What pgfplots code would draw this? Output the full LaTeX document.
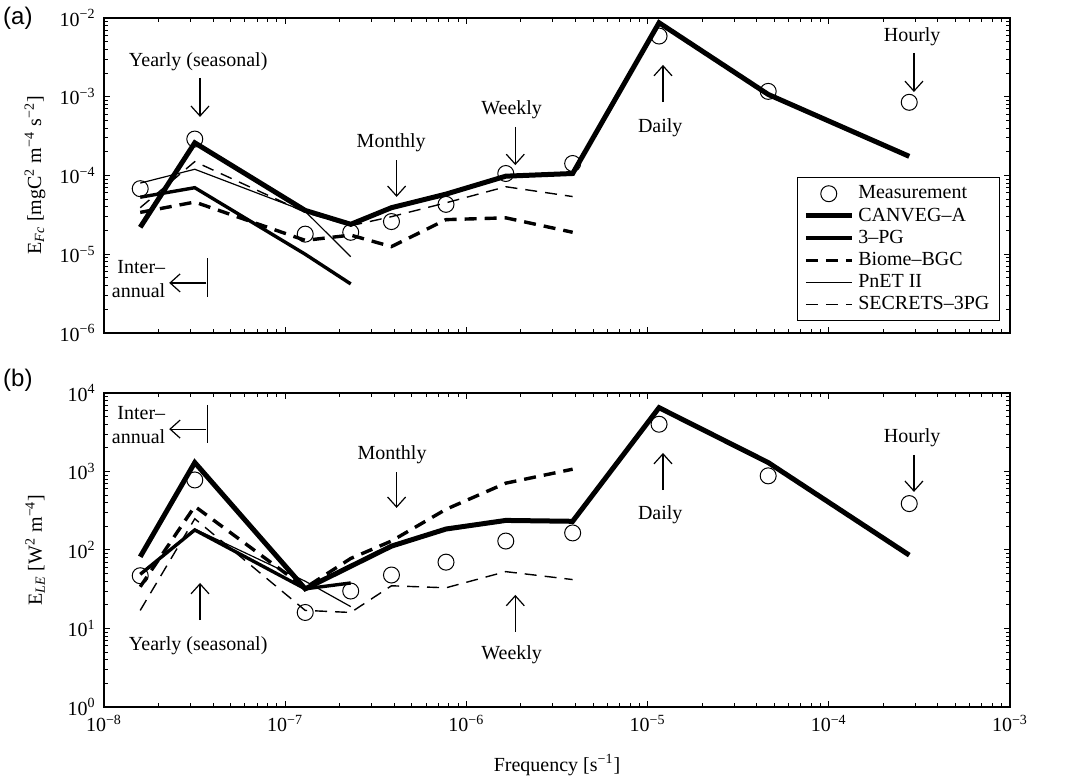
\documentclass[border=0pt]{standalone}
\usepackage{fontspec}
\setmainfont{Liberation Serif}
\setsansfont{Liberation Sans}
\usepackage{pgfplots}
\pgfplotsset{compat=1.18}
\usetikzlibrary{arrows.meta}

\pgfplotsset{
  spectrumpanel/.style={
    scale only axis,
    width=453pt, xmin=1e-8, xmax=1e-3,
    xtick={1e-8,1e-7,1e-6,1e-5,1e-4,1e-3},
    minor xtick={2e-8,3e-8,4e-8,5e-8,6e-8,7e-8,8e-8,9e-8,
                 2e-7,3e-7,4e-7,5e-7,6e-7,7e-7,8e-7,9e-7,
                 2e-6,3e-6,4e-6,5e-6,6e-6,7e-6,8e-6,9e-6,
                 2e-5,3e-5,4e-5,5e-5,6e-5,7e-5,8e-5,9e-5,
                 2e-4,3e-4,4e-4,5e-4,6e-4,7e-4,8e-4,9e-4},
    tick align=inside, major tick length=3pt, minor tick length=1.8pt,
    axis line style={line width=0.75pt},
    every tick/.append style={line width=0.5pt, black},
    xticklabel style={inner sep=0pt, yshift=-4pt},
    yticklabel style={inner sep=0pt, xshift=-4pt},
    clip=false,
    every axis y label/.style={at={(axis description cs:-0.076,0.5)}, rotate=90, anchor=center},
    legend image code/.code={\draw[#1] (0pt,0pt) -- (23pt,0pt);},
  },
  meas/.style={only marks, mark=o, mark size=4pt, mark options={line width=0.5pt, solid},
    legend image code/.code={\draw[#1] plot coordinates {(11.5pt,0pt)};}},
  canveg/.style={line width=2.5pt, no marks},
  tpg/.style={line width=1.7pt, no marks},
  biome/.style={line width=1.7pt, dash pattern=on 6pt off 4pt, no marks},
  pnet/.style={line width=0.6pt, no marks},
  secrets/.style={line width=0.7pt, dash pattern=on 6pt off 4pt, no marks},
}
\tikzset{arr/.style={line width=0.6pt, -{Straight Barb[length=5pt,width=9pt]}}}

\begin{document}
\begin{tikzpicture}
\path[use as bounding box] (0,0) rectangle (532.5pt,389.5pt);

% panel (a): carbon flux
\begin{axis}[xmode=log, ymode=log, spectrumpanel, at={(52pt,223pt)}, anchor=south west, height=157.5pt,
    ymin=1e-6, ymax=1e-2,
    ytick={1e-6,1e-5,1e-4,1e-3,1e-2},
    minor ytick={2e-6,3e-6,4e-6,5e-6,6e-6,7e-6,8e-6,9e-6,
                 2e-5,3e-5,4e-5,5e-5,6e-5,7e-5,8e-5,9e-5,
                 2e-4,3e-4,4e-4,5e-4,6e-4,7e-4,8e-4,9e-4,
                 2e-3,3e-3,4e-3,5e-3,6e-3,7e-3,8e-3,9e-3},
    xticklabels={},
    yticklabels={10\textsuperscript{−6},10\textsuperscript{−5},10\textsuperscript{−4},10\textsuperscript{−3},10\textsuperscript{−2}},
    ylabel={E\textsubscript{\textit{Fc}} [mgC\textsuperscript{2} m\textsuperscript{−4} s\textsuperscript{−2}]},
    legend cell align=left,
    legend style={at={(0.989,0.495)}, anchor=north east, draw=black, line width=0.6pt, font=\normalsize, row sep=-1pt},
  ]
  \addplot[meas] coordinates {(1.585e-8,6.8e-5) (3.17e-8,2.9e-4) (1.29e-7,1.8e-5) (2.3e-7,1.9e-5) (3.86e-7,2.6e-5) (7.72e-7,4.3e-5) (1.65e-6,1.06e-4) (3.86e-6,1.42e-4) (1.157e-5,5.9e-3) (4.63e-5,1.17e-3) (2.78e-4,8.5e-4)};
  \addlegendentry{Measurement}
  \addplot[canveg] coordinates {(1.585e-8,2.2e-5) (3.17e-8,2.6e-4) (1.29e-7,3.6e-5) (2.3e-7,2.4e-5) (3.86e-7,3.9e-5) (7.72e-7,5.8e-5) (1.65e-6,9.8e-5) (3.86e-6,1.06e-4) (1.157e-5,8.7e-3) (4.63e-5,1.07e-3) (2.78e-4,1.75e-4)};
  \addlegendentry{CANVEG--A}
  \addplot[tpg] coordinates {(1.585e-8,5.3e-5) (3.17e-8,7e-5) (1.29e-7,1e-5) (2.3e-7,4.2e-6)};
  \addlegendentry{3--PG}
  \addplot[biome] coordinates {(1.585e-8,3.4e-5) (3.17e-8,4.6e-5) (1.29e-7,1.5e-5) (2.3e-7,1.75e-5) (3.86e-7,1.25e-5) (7.72e-7,2.75e-5) (1.65e-6,2.9e-5) (3.86e-6,1.9e-5)};
  \addlegendentry{Biome--BGC}
  \addplot[pnet] coordinates {(1.585e-8,8e-5) (3.17e-8,1.2e-4) (1.29e-7,3.5e-5) (2.3e-7,9.3e-6)};
  \addlegendentry{PnET II}
  \addplot[secrets] coordinates {(1.585e-8,3.9e-5) (3.17e-8,1.5e-4) (1.29e-7,3.4e-5) (2.3e-7,2.3e-5) (3.86e-7,3e-5) (7.72e-7,4.5e-5) (1.65e-6,7.2e-5) (3.86e-6,5.4e-5)};
  \addlegendentry{SECRETS--3PG}

  \node[font=\sffamily\large] at (axis description cs:-0.095,1.0) {(a)};
  \node at (axis description cs:0.104,0.860) {Yearly (seasonal)};
  \draw[arr] (axis description cs:0.106,0.810) -- (axis description cs:0.106,0.686);
  \node at (axis description cs:0.317,0.603) {Monthly};
  \draw[arr] (axis description cs:0.323,0.549) -- (axis description cs:0.323,0.432);
  \node at (axis description cs:0.450,0.708) {Weekly};
  \draw[arr] (axis description cs:0.454,0.654) -- (axis description cs:0.454,0.533);
  \node at (axis description cs:0.614,0.651) {Daily};
  \draw[arr] (axis description cs:0.617,0.733) -- (axis description cs:0.617,0.851);
  \node at (axis description cs:0.892,0.940) {Hourly};
  \draw[arr] (axis description cs:0.894,0.889) -- (axis description cs:0.894,0.765);
  \node[align=right, anchor=east, inner sep=0pt] at (axis description cs:0.068,0.171) {Inter--\\annual};
  \draw[arr] (axis description cs:0.113,0.159) -- (axis description cs:0.072,0.159);
  \draw[line width=0.6pt] (axis description cs:0.114,0.238) -- (axis description cs:0.114,0.114);
\end{axis}

% panel (b): latent heat flux
\begin{axis}[xmode=log, ymode=log, spectrumpanel, at={(52pt,36pt)}, anchor=south west, height=157pt,
    ymin=1, ymax=1e4,
    ytick={1,1e1,1e2,1e3,1e4},
    minor ytick={2,3,4,5,6,7,8,9,20,30,40,50,60,70,80,90,
                 200,300,400,500,600,700,800,900,2000,3000,4000,5000,6000,7000,8000,9000},
    xticklabels={10\textsuperscript{−8},10\textsuperscript{−7},10\textsuperscript{−6},10\textsuperscript{−5},10\textsuperscript{−4},10\textsuperscript{−3}},
    yticklabels={10\textsuperscript{0},10\textsuperscript{1},10\textsuperscript{2},10\textsuperscript{3},10\textsuperscript{4}},
    ylabel={E\textsubscript{\textit{LE}} [W\textsuperscript{2} m\textsuperscript{−4}]},
    xlabel={Frequency [s\textsuperscript{−1}]},
    every axis x label/.style={at={(axis description cs:0.5,-0.185)}, anchor=center},
  ]
  \addplot[meas] coordinates {(1.585e-8,47) (3.17e-8,780) (1.29e-7,16) (2.3e-7,30) (3.86e-7,48) (7.72e-7,70) (1.65e-6,130) (3.86e-6,165) (1.157e-5,4000) (4.63e-5,880) (2.78e-4,390)};
  \addplot[canveg] coordinates {(1.585e-8,82) (3.17e-8,1300) (1.29e-7,32) (2.3e-7,62) (3.86e-7,112) (7.72e-7,185) (1.65e-6,238) (3.86e-6,232) (1.157e-5,6500) (4.63e-5,1300) (2.78e-4,86)};
  \addplot[tpg] coordinates {(1.585e-8,49) (3.17e-8,180) (1.29e-7,32) (2.3e-7,38)};
  \addplot[biome] coordinates {(1.585e-8,34) (3.17e-8,360) (1.29e-7,33) (2.3e-7,78) (3.86e-7,130) (7.72e-7,330) (1.65e-6,710) (3.86e-6,1070)};
  \addplot[pnet] coordinates {(1.585e-8,50) (3.17e-8,185) (1.29e-7,40) (2.3e-7,19)};
  \addplot[secrets] coordinates {(1.585e-8,17) (3.17e-8,250) (1.29e-7,17) (2.3e-7,16) (3.86e-7,35) (7.72e-7,33) (1.65e-6,53) (3.86e-6,42)};

  \node[font=\sffamily\large] at (axis description cs:-0.095,1.04) {(b)};
  \node[align=right, anchor=east, inner sep=0pt] at (axis description cs:0.068,0.898) {Inter--\\annual};
  \draw[arr] (axis description cs:0.113,0.885) -- (axis description cs:0.072,0.885);
  \draw[line width=0.6pt] (axis description cs:0.114,0.962) -- (axis description cs:0.114,0.841);
  \node at (axis description cs:0.318,0.803) {Monthly};
  \draw[arr] (axis description cs:0.323,0.748) -- (axis description cs:0.323,0.634);
  \node at (axis description cs:0.104,0.194) {Yearly (seasonal)};
  \draw[arr] (axis description cs:0.106,0.277) -- (axis description cs:0.106,0.395);
  \node at (axis description cs:0.450,0.166) {Weekly};
  \draw[arr] (axis description cs:0.454,0.239) -- (axis description cs:0.454,0.357);
  \node at (axis description cs:0.614,0.611) {Daily};
  \draw[arr] (axis description cs:0.617,0.691) -- (axis description cs:0.617,0.809);
  \node at (axis description cs:0.892,0.857) {Hourly};
  \draw[arr] (axis description cs:0.894,0.803) -- (axis description cs:0.894,0.685);
\end{axis}
\end{tikzpicture}
\end{document}
